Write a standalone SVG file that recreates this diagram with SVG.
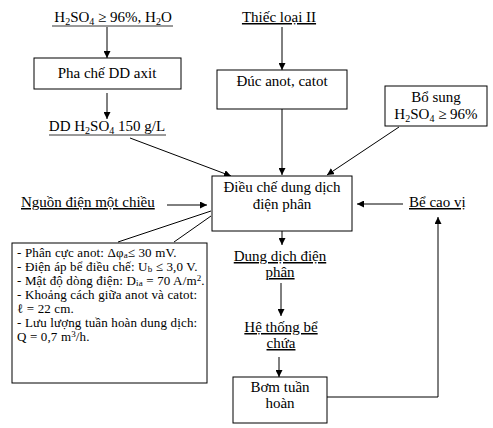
<svg xmlns="http://www.w3.org/2000/svg" width="493" height="428" viewBox="0 0 493 428">
<defs>
<marker id="ah" viewBox="0 0 10 10" refX="10" refY="5" markerWidth="7" markerHeight="7" markerUnits="userSpaceOnUse" orient="auto"><path d="M0,0 L10,5 L0,10 z" fill="#000"/></marker>
</defs>
<style>
text{font-family:"Liberation Serif","Times New Roman",serif;font-size:15px;fill:#000}
.u{text-decoration:underline}
.c{text-anchor:middle}
.s{font-size:13px;letter-spacing:0.15px}
.box{fill:#fff;stroke:#000;stroke-width:1}
.ln{fill:none;stroke:#000;stroke-width:1}
.ul{fill:none;stroke:#000;stroke-width:0.8}
.ar{fill:none;stroke:#000;stroke-width:1;marker-end:url(#ah)}
</style>
<rect width="493" height="428" fill="#fff"/>
<g id="connectors">
<line class="ar" x1="107" y1="27" x2="107" y2="58"/>
<line class="ar" x1="107" y1="93" x2="107" y2="119"/>
<line class="ar" x1="282" y1="27" x2="282" y2="70"/>
<line class="ar" x1="282" y1="109" x2="282" y2="175"/>
<line class="ar" x1="130" y1="138" x2="231" y2="176"/>
<line class="ar" x1="399" y1="127" x2="327" y2="175"/>
<line class="ar" x1="167" y1="205" x2="207" y2="205"/>
<line class="ar" x1="403" y1="204" x2="357" y2="204"/>
<line class="ln" x1="118" y1="242" x2="211" y2="211"/>
<line class="ln" x1="174" y1="242" x2="211" y2="216"/>
<line class="ar" x1="282" y1="231" x2="282" y2="245"/>
<line class="ar" x1="281" y1="283" x2="281" y2="316"/>
<line class="ar" x1="279" y1="357" x2="279" y2="377"/>
<polyline class="ar" points="327,397 438,397 438,217"/>
</g>
<g id="n-h2so4-h2o"><text class="c" x="113" y="22">H<tspan font-size="10" dy="3">2</tspan><tspan dy="-3">SO</tspan><tspan font-size="10" dy="3">4</tspan><tspan dy="-3"> ≥ 96%, H</tspan><tspan font-size="10" dy="3">2</tspan><tspan dy="-3">O</tspan></text><line class="ul" x1="52" y1="26" x2="173" y2="26"/></g>
<g id="n-pha-che"><rect class="box" x="34" y="58" width="147" height="31"/><text class="c" x="107" y="78">Pha chế DD axit</text></g>
<g id="n-dd-h2so4"><text class="c" x="107" y="131">DD H<tspan font-size="10" dy="3">2</tspan><tspan dy="-3">SO</tspan><tspan font-size="10" dy="3">4</tspan><tspan dy="-3"> 150 g/L</tspan></text><line class="ul" x1="49" y1="135" x2="166" y2="135"/></g>
<g id="n-thiec"><text class="u c" x="279" y="22">Thiếc loại II</text></g>
<g id="n-duc"><rect class="box" x="217" y="70" width="130" height="39"/><text class="c" x="282" y="86">Đúc anot, catot</text></g>
<g id="n-bo-sung"><rect class="box" x="385" y="86" width="102" height="40"/><text class="c" x="436" y="102">Bổ sung</text><text class="c" x="436" y="119">H<tspan font-size="10" dy="3">2</tspan><tspan dy="-3">SO</tspan><tspan font-size="10" dy="3">4</tspan><tspan dy="-3"> ≥ 96%</tspan></text></g>
<g id="n-nguon"><text class="u" x="21" y="207">Nguồn điện một chiều</text></g>
<g id="n-dieu-che"><rect class="box" x="212" y="176" width="140" height="55"/><text class="c" x="282" y="192">Điều chế dung dịch</text><text class="c" x="282" y="209">điện phân</text></g>
<g id="n-be-cao-vi"><text class="u" x="409" y="207">Bể cao vị</text></g>
<g id="n-params"><rect class="box" x="12" y="243" width="195" height="140"/>
<text class="s" x="17" y="257">- Phân cực anot: Δφ<tspan font-size="9" dy="1">a</tspan><tspan dy="-1">≤  30 mV.</tspan></text>
<text class="s" x="17" y="271">- Điện áp bể điều chế: U<tspan font-size="9" dy="1">b</tspan><tspan dy="-1"> ≤ 3,0 V.</tspan></text>
<text class="s" x="17" y="285">- Mật độ dòng điện: D<tspan font-size="9" dy="1">ia</tspan><tspan dy="-1"> = 70 A/m</tspan><tspan font-size="9" dy="-4">2</tspan><tspan dy="4">.</tspan></text>
<text class="s" x="17" y="299">- Khoảng cách giữa anot và catot:</text>
<text class="s" x="17" y="313"> ℓ = 22 cm.</text>
<text class="s" x="17" y="327">- Lưu lượng tuần hoàn dung dịch:</text>
<text class="s" x="17" y="341">Q = 0,7 m<tspan font-size="9" dy="-4">3</tspan><tspan dy="4">/h.</tspan></text>
</g>
<g id="n-dung-dich"><text class="u c" x="280" y="261">Dung dịch điện</text><text class="u c" x="280" y="277">phân</text></g>
<g id="n-he-thong"><text class="u c" x="281" y="332">Hệ thống bể</text><text class="u c" x="281" y="348">chứa</text></g>
<g id="n-bom"><rect class="box" x="233" y="377" width="94" height="46"/><text class="c" x="280" y="392">Bơm tuần</text><text class="c" x="280" y="408">hoàn</text></g>
</svg>
